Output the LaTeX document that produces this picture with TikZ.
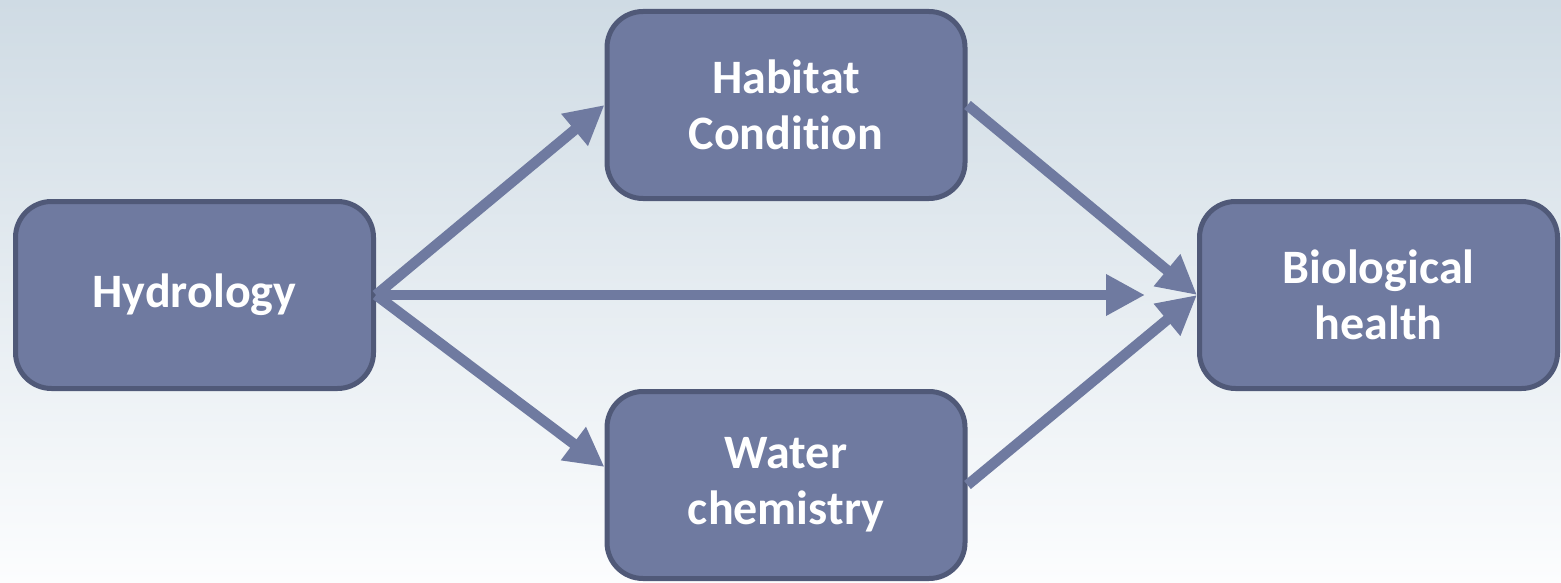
\documentclass[tikz,border=0pt]{standalone}
\usepackage{fontspec}
\setmainfont{Carlito}[Ligatures=NoCommon]
\usetikzlibrary{arrows.meta}

\definecolor{boxfill}{RGB}{111,122,160}
\definecolor{boxline}{RGB}{80,89,120}
\definecolor{bgtop}{RGB}{207,219,228}
\definecolor{bgbottom}{RGB}{252,253,254}

\begin{document}
\begin{tikzpicture}[x=1pt, y=-1pt,
  factor/.style={draw=boxline, line width=5pt, fill=boxfill, rounded corners=36pt,
    minimum width=358pt, minimum height=187pt, align=center, text=white,
    font=\fontsize{48}{56}\selectfont\bfseries},
  link/.style={draw=boxfill, line width=10.5pt, -{Triangle[length=39pt,width=39pt]}}]

% background
\shade[top color=bgtop, bottom color=bgbottom] (0,0) rectangle (1561,583);
\useasboundingbox (0,0) rectangle (1561,583);

\node[factor] (hydro) at (194.5,295) {Hydrology};
\node[factor] (habitat) at (786,105) {Habitat\\Condition};
\node[factor] (water) at (786,485) {Water\\chemistry};
\node[factor] (bio) at (1378.5,295) {Biological\\health};

\draw[link] (hydro.east) -- (habitat.west);
\draw[link] (hydro.east) -- ([yshift=18pt]water.west);
\draw[link, shorten >=52pt] (hydro.east) -- (bio.west);
\draw[link] (habitat.east) -- (bio.west);
\draw[link] (water.east) -- (bio.west);
\end{tikzpicture}
\end{document}
